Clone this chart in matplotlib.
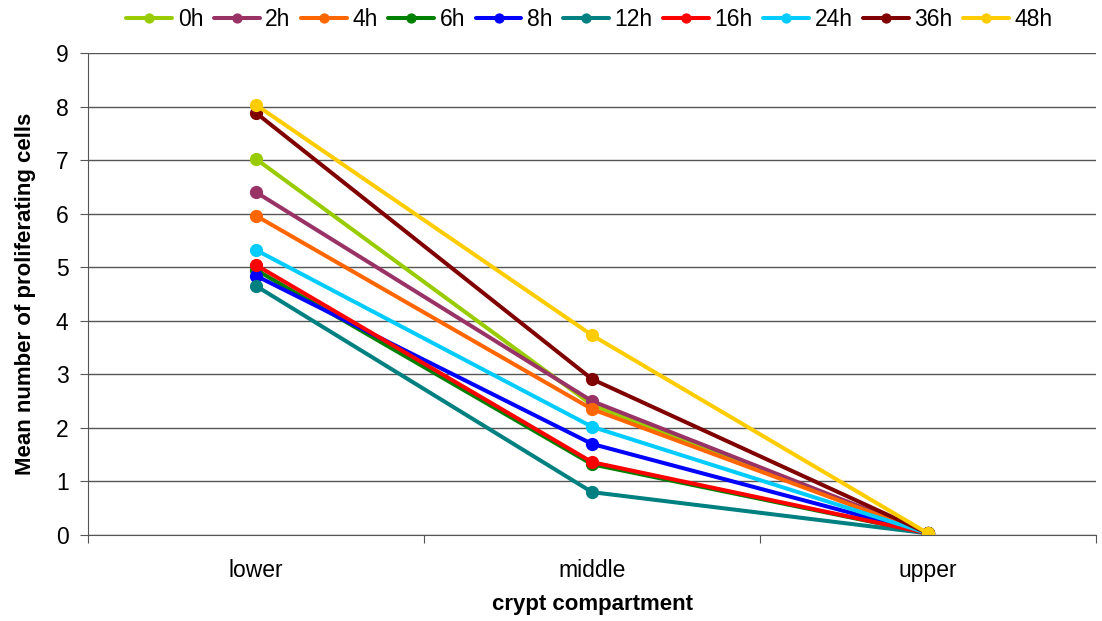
import matplotlib
matplotlib.use("Agg")
from matplotlib import pyplot as plt

plt.rcParams['font.family'] = ['Liberation Sans', 'DejaVu Sans']

compartments = ["lower", "middle", "upper"]
series_names = ["0h", "2h", "4h", "6h", "8h", "12h", "16h", "24h", "36h", "48h"]
series_colors = ["#99CC00", "#993366", "#FF6600", "#008000", "#0000FF",
                 "#008080", "#FF0000", "#00CCFF", "#800000", "#FFCC00"]

vals_0h = [7.02, 2.43, 0.03]
vals_2h = [6.40, 2.50, 0.03]
vals_4h = [5.96, 2.35, 0.03]
vals_6h = [4.95, 1.32, 0.03]
vals_8h = [4.84, 1.70, 0.03]
vals_12h = [4.65, 0.80, 0.03]
vals_16h = [5.04, 1.36, 0.03]
vals_24h = [5.32, 2.02, 0.03]
vals_36h = [7.88, 2.91, 0.03]
vals_48h = [8.03, 3.73, 0.03]
all_vals = [vals_0h, vals_2h, vals_4h, vals_6h, vals_8h,
            vals_12h, vals_16h, vals_24h, vals_36h, vals_48h]

fig = plt.figure(figsize=(11.02, 6.21), dpi=100)
ax = fig.add_axes([0.0799, 0.1385, 0.9147, 0.7762])

x = list(range(len(compartments)))
for name, col, vals in zip(series_names, series_colors, all_vals):
    ax.plot(x, vals, color=col, lw=2.9, marker="o", markersize=8.5,
            label=name, solid_capstyle="round")

ax.set_xlim(-0.5, 2.5)
ax.set_ylim(0, 9)
ax.set_yticks(range(0, 10))
ax.yaxis.grid(True, color="#555555", lw=1.0)
ax.set_axisbelow(True)

ax.set_xticks([-0.5, 0.5, 1.5, 2.5])
ax.set_xticklabels([])
ax.set_xticks(x, minor=True)
ax.set_xticklabels(compartments, minor=True)
ax.tick_params(axis="x", which="major", length=6, color="#555555")
ax.tick_params(axis="x", which="minor", length=0, pad=17, labelsize=16.5)
ax.tick_params(axis="y", length=6, color="#555555", labelsize=16.5, pad=8)

for s in ["top", "right"]:
    ax.spines[s].set_visible(False)
ax.spines["left"].set_color("#555555")
ax.spines["bottom"].set_color("#555555")

ax.set_xlabel("crypt compartment", fontsize=16, fontweight="bold", labelpad=9)
ax.set_ylabel("Mean number of proliferating cells", fontsize=16, fontweight="bold", labelpad=14)

fig.legend(loc="center", bbox_to_anchor=(0.535, 0.968), ncol=10, frameon=False,
           fontsize=16.5, handlelength=2.0, handletextpad=0.25, columnspacing=0.45,
           markerscale=0.75)

fig.savefig("out.png", dpi=100)
